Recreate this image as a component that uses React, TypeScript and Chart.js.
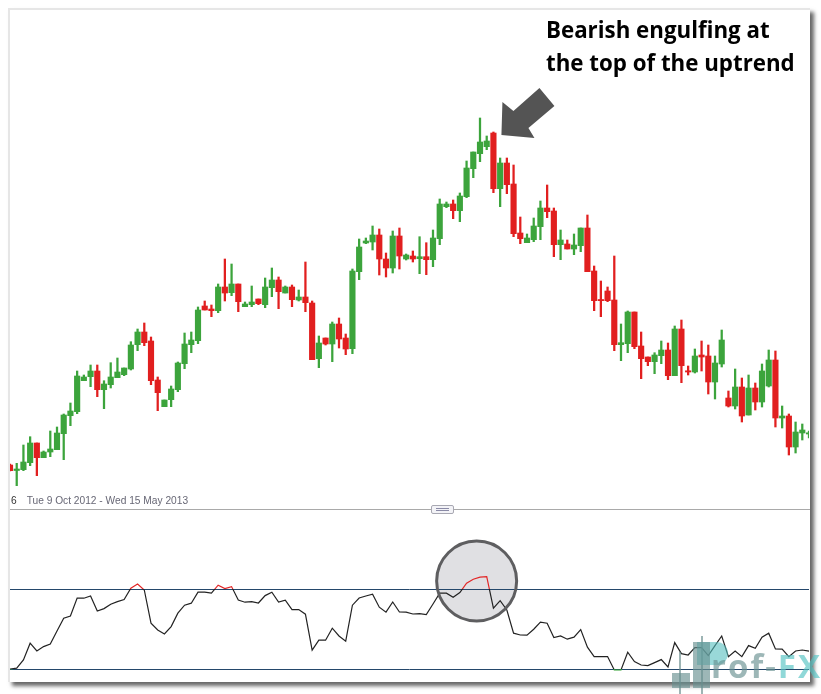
import React, { useEffect, useRef } from 'react';
import { Chart, registerables } from 'chart.js';
Chart.register(...registerables);

// Price values (arbitrary units)
const OPEN = [
  35, 29.5, 30.3, 37.3, 57, 42.3, 48, 50.3, 66.3, 84.3,
  88.3, 119.3, 123.3, 129, 110.3, 115.3, 122.3, 125.3, 131, 155.3,
  168, 159, 120, 93.3, 100.3, 110.3, 136.3, 155.3, 159.3, 194,
  191, 189.3, 213, 207.3, 216, 193.3, 195.3, 201, 195.3, 212.3,
  220, 207, 213, 200, 203, 197, 141.3, 162, 156, 176,
  162, 151.3, 228.3, 257, 258, 265, 241, 232, 264, 241,
  244, 241.3, 243.3, 240.3, 261.3, 293.3, 296, 289.3, 303.3, 331.3,
  346.3, 353.3, 367, 311.3, 337, 316, 267, 257.3, 260.3, 273.3,
  292, 289, 255.3, 256, 251, 254.3, 272, 229, 200.3, 209,
  200, 155.3, 156.3, 188, 154, 143, 138.3, 144.3, 150, 124.3,
  171, 129, 128, 145, 144, 118, 136, 102, 94, 113,
  85, 112, 98, 114, 140, 82, 84, 53, 67, 66,
];
const CLOSE = [
  29.3, 31, 38, 57, 42.3, 48, 51, 67, 85, 89,
  124, 123, 129, 110.3, 116, 123, 128, 132, 155, 168,
  157.3, 119.3, 107.3, 100, 111, 137, 156, 160, 190, 190,
  189.3, 213, 207, 216, 198.3, 196, 198, 196.3, 213, 220,
  208.3, 213, 200.3, 203, 197.3, 140.3, 157, 156, 176, 161,
  151, 229, 253, 259, 265, 241, 232, 264, 244, 245,
  241, 243.3, 240.3, 262, 296, 296, 289.3, 304, 332, 348,
  358, 359, 311.3, 337, 315.3, 266.3, 261.3, 262, 274, 292,
  288.3, 255.3, 260, 251, 255, 272, 228.3, 199.3, 199.3, 199.3,
  155.3, 157.3, 188, 153.3, 141.3, 138.3, 145, 150, 124.3, 171,
  134.3, 128, 144, 143, 118, 137, 160, 94, 113, 84,
  112, 98, 129, 140, 82, 84, 53, 68, 70, 67,
];
const HIGH = [
  36, 36.7, 55, 63.3, 57, 49, 69, 73, 86, 97,
  129, 125, 135, 135, 119.3, 137.3, 142, 132, 158.3, 171,
  177, 163, 123, 100, 114, 138, 167, 168, 193, 199,
  195, 216, 241, 236, 216, 198, 214, 201, 222, 232,
  223, 214, 215, 210, 238, 199, 164, 162, 178, 182,
  166, 231, 261, 262, 274, 271, 247, 269, 272, 246,
  249, 263.3, 257.3, 270, 301, 298, 300, 307, 339, 348,
  382, 364, 368, 342, 342, 335, 283, 266, 282, 299,
  315, 292, 270, 260, 266, 272, 285, 234, 219, 213,
  244, 176, 189, 188, 168, 143, 147.3, 159, 157, 174,
  180, 134, 151, 159, 155, 144, 170, 109, 131, 122,
  125, 117, 136, 150, 149, 94, 86, 78, 76, 69,
];
const LOW = [
  29, 14.3, 29.3, 34.3, 24.3, 42.3, 43.3, 50.3, 40.3, 74.3,
  86.3, 119.3, 113.3, 103.3, 91.3, 112, 122.3, 124.3, 130, 149.3,
  154.3, 115.3, 89.3, 93.3, 93.3, 108.3, 131.3, 147.3, 156.3, 190,
  183.3, 187.3, 199, 204.3, 188.3, 193.3, 193.3, 195.3, 192.3, 203.3,
  191.3, 207, 193.3, 199, 188.3, 140.3, 132.3, 155, 138.3, 152,
  145.3, 146.3, 220.3, 256.3, 250, 225, 223, 227, 231, 240,
  238, 226.3, 225.3, 233.3, 255.3, 292.3, 281.3, 278.3, 302.3, 322.3,
  338.3, 350.3, 307.3, 293.3, 306.3, 263.3, 256.3, 257.3, 258.3, 260.3,
  282.3, 243.3, 240.3, 251, 245.3, 248.3, 228.3, 189.3, 183.3, 198.3,
  149.3, 139.3, 147.3, 151.3, 121.3, 134.3, 126.3, 136.3, 120.3, 124.3,
  117.3, 125, 127, 129, 106, 101, 133, 93, 91, 78,
  85, 90, 93, 113, 73, 72, 45, 47, 60, 62,
];
// Oscillator (RSI-like) values
const RSI = [
  30, 30.4, 34.5, 42.9, 39, 41.2, 42.5, 49, 55.4, 56.5,
  65.5, 65.4, 66.5, 59, 60.2, 62.4, 63.7, 64.7, 70.4, 72.5,
  69.5, 52.9, 49.5, 47.5, 51.2, 57.9, 61.9, 62.9, 68.4, 68.4,
  67.9, 71.9, 70.2, 71.2, 64.5, 63.4, 63.7, 63, 66.7, 68.4,
  63.5, 64.4, 59.7, 59.7, 57.4, 39.4, 44.4, 44.4, 50.4, 46.5,
  43.9, 61.9, 65.5, 66.5, 67.4, 60.9, 58.4, 63.5, 58.5, 58.4,
  57.5, 57.7, 57.2, 62.5, 67.9, 67.9, 65.9, 68.2, 72.9, 74.9,
  75.9, 76.2, 60.4, 64.2, 59.5, 47.9, 47, 46.9, 49.9, 53.4,
  52.9, 45.7, 46.5, 44.9, 45.9, 49.7, 40.9, 36.2, 36.2, 36.2,
  29.5, 29.5, 38.4, 33.7, 32, 31.7, 33.2, 34.7, 31, 43.2,
  37.7, 37, 40.7, 40.7, 36.7, 41.7, 46.5, 36.2, 39, 36.2,
  41.7, 40.4, 45.9, 47.9, 40, 39.9, 36.2, 39, 39.5, 38.9,
];
const LABELS = OPEN.map((_, i) => String(i));
const LEVELS = [30, 70];
const ENGULF_INDEX = 72;
const CIRCLE_FROM = 69;
const CIRCLE_TO = 70;
const CIRCLE_VALUE = 74;

const GREEN = '#3ca43c';
const RED = '#e11f1f';

const arrowPlugin = {
  id: 'arrowNote',
  afterDraw(chart: any) {
    const ctx = chart.ctx;
    const x = chart.scales.x.getPixelForValue(ENGULF_INDEX);
    const y = chart.scales.y.getPixelForValue(HIGH[ENGULF_INDEX]);
    const pts = [[8, 3], [9, -30], [20, -21], [46, -44], [61, -26], [35, -4], [41, 6]];
    ctx.save();
    ctx.beginPath();
    pts.forEach(([dx, dy], k) => (k ? ctx.lineTo(x + dx, y + dy) : ctx.moveTo(x + dx, y + dy)));
    ctx.closePath();
    ctx.fillStyle = '#545454';
    ctx.fill();
    ctx.restore();
  },
};

const circlePlugin = {
  id: 'circleNote',
  beforeDraw(chart: any) {
    const ctx = chart.ctx;
    const xs = chart.scales.x;
    const cx = (xs.getPixelForValue(CIRCLE_FROM) + xs.getPixelForValue(CIRCLE_TO)) / 2;
    const cy = chart.scales.y.getPixelForValue(CIRCLE_VALUE);
    ctx.save();
    ctx.beginPath();
    ctx.arc(cx, cy, 40, 0, Math.PI * 2);
    ctx.fillStyle = '#e0e0e3';
    ctx.fill();
    ctx.restore();
  },
  afterDraw(chart: any) {
    const ctx = chart.ctx;
    const xs = chart.scales.x;
    const cx = (xs.getPixelForValue(CIRCLE_FROM) + xs.getPixelForValue(CIRCLE_TO)) / 2;
    const cy = chart.scales.y.getPixelForValue(CIRCLE_VALUE);
    ctx.save();
    ctx.beginPath();
    ctx.arc(cx, cy, 40, 0, Math.PI * 2);
    ctx.lineWidth = 3;
    ctx.strokeStyle = '#5e5e60';
    ctx.stroke();
    ctx.restore();
  },
};

export default function App() {
  const candleRef = useRef<HTMLCanvasElement>(null);
  const rsiRef = useRef<HTMLCanvasElement>(null);

  useEffect(() => {
    const colors = CLOSE.map((c, i) => (c >= OPEN[i] ? GREEN : RED));
    const c1 = new Chart(candleRef.current as HTMLCanvasElement, {
      type: 'bar',
      data: {
        labels: LABELS,
        datasets: [
          {
            data: LOW.map((l, i) => [l, HIGH[i]]) as any,
            backgroundColor: colors,
            barThickness: 1.6,
            grouped: false,
            order: 2,
          } as any,
          {
            data: OPEN.map((o, i) => [o, CLOSE[i]]) as any,
            backgroundColor: colors,
            barThickness: 5.5,
            minBarLength: 1.2,
            grouped: false,
            order: 1,
          } as any,
        ],
      },
      options: {
        animation: false,
        responsive: false,
        maintainAspectRatio: false,
        layout: { padding: { left: 0, right: 1, top: 0, bottom: 0 } },
        plugins: { legend: { display: false }, tooltip: { enabled: false } },
        scales: {
          x: { type: 'category', offset: false, display: false },
          y: { display: false, min: 0, max: 490 },
        },
      },
      plugins: [arrowPlugin],
    });

    const c2 = new Chart(rsiRef.current as HTMLCanvasElement, {
      type: 'line',
      data: {
        labels: LABELS,
        datasets: [
          {
            data: RSI,
            borderWidth: 1.2,
            pointRadius: 0,
            tension: 0,
            fill: false,
            borderColor: (c: any) => {
              const chart = c.chart;
              const area = chart.chartArea;
              if (!area) return '#222';
              const ys = chart.scales.y;
              const h = area.bottom - area.top;
              const p70 = Math.min(1, Math.max(0, (ys.getPixelForValue(LEVELS[1]) - area.top) / h));
              const p30 = Math.min(1, Math.max(0, (ys.getPixelForValue(LEVELS[0]) - area.top) / h));
              const g = chart.ctx.createLinearGradient(0, area.top, 0, area.bottom);
              g.addColorStop(0, '#e22626');
              g.addColorStop(p70, '#e22626');
              g.addColorStop(p70, '#222222');
              g.addColorStop(p30, '#222222');
              g.addColorStop(p30, '#2ea02e');
              g.addColorStop(1, '#2ea02e');
              return g;
            },
          } as any,
        ],
      },
      options: {
        animation: false,
        responsive: false,
        maintainAspectRatio: false,
        layout: { padding: { left: 0, right: 1, top: 0, bottom: 0 } },
        plugins: { legend: { display: false }, tooltip: { enabled: false } },
        scales: {
          x: { type: 'category', offset: false, display: false },
          y: {
            min: 25,
            max: 105,
            display: true,
            border: { display: false },
            ticks: { display: false },
            grid: { color: '#24476b', lineWidth: 1, drawTicks: false },
            afterBuildTicks: (axis: any) => {
              axis.ticks = LEVELS.map((v) => ({ value: v }));
            },
          },
        },
      },
      plugins: [circlePlugin],
    });

    return () => {
      c1.destroy();
      c2.destroy();
    };
  }, []);

  const abs = (s: React.CSSProperties): React.CSSProperties => ({ position: 'absolute', ...s });

  return (
    <div style={abs({ left: 0, top: 0, width: 821, height: 694, overflow: 'hidden', background: '#fff' })}>
      {/* panel */}
      <div
        style={abs({
          left: 8,
          top: 8,
          width: 800,
          height: 672,
          background: '#fff',
          borderTop: '2px solid #e6e6e6',
          borderLeft: '2px solid #e6e6e6',
          boxShadow: '4px 4px 4px rgba(0,0,0,0.6)',
        })}
      />
      <canvas ref={candleRef} width={800} height={490} style={abs({ left: 10, top: 10, width: 800, height: 490 })} />
      {/* date range text */}
      <div
        style={abs({
          left: 11,
          top: 494,
          fontFamily: '"Liberation Sans", Arial, sans-serif',
          fontSize: 10.2,
          lineHeight: '13px',
          color: '#676775',
          whiteSpace: 'nowrap',
        })}
      >
        <span style={{ color: '#333' }}>6</span>
        <span style={{ marginLeft: 10 }}>Tue 9 Oct 2012 - Wed 15 May 2013</span>
      </div>
      {/* separator */}
      <div style={abs({ left: 10, top: 509, width: 800, height: 1, background: '#a9a9a9' })} />
      <div
        style={abs({
          left: 431,
          top: 505,
          width: 21,
          height: 7,
          border: '1px solid #a8a8b2',
          borderRadius: 2,
          background: '#f3f3f7',
        })}
      >
        <div style={abs({ left: 4, top: 2, width: 13, height: 1, background: '#8a8aa6' })} />
        <div style={abs({ left: 4, top: 4, width: 13, height: 1, background: '#8a8aa6' })} />
      </div>
      <canvas ref={rsiRef} width={800} height={160} style={abs({ left: 10, top: 519, width: 800, height: 160 })} />
      {/* annotation */}
      <div
        style={abs({
          left: 546,
          top: 13,
          fontFamily: '"Open Sans", sans-serif',
          fontWeight: 700,
          fontSize: 22.3,
          lineHeight: '33px',
          color: '#000',
          whiteSpace: 'nowrap',
        })}
      >
        Bearish engulfing at
        <br />
        the top of the uptrend
      </div>
      {/* logo watermark */}
      <div style={abs({ left: 679, top: 652, width: 2, height: 42, background: 'rgba(105,140,140,0.65)' })} />
      <div style={abs({ left: 672, top: 673, width: 18, height: 15, background: 'rgba(105,145,145,0.65)' })} />
      <div style={abs({ left: 701, top: 636, width: 2, height: 58, background: 'rgba(105,140,140,0.65)' })} />
      <div
        style={abs({
          left: 697,
          top: 642,
          width: 31,
          height: 23,
          borderRadius: '0 13px 13px 0',
          background: 'rgba(85,190,190,0.6)',
        })}
      />
      <div style={abs({ left: 693, top: 642, width: 17, height: 46, background: 'rgba(105,145,145,0.65)' })} />
      <div
        style={abs({
          left: 711,
          top: 645,
          fontFamily: '"Open Sans", sans-serif',
          fontWeight: 700,
          fontSize: 33,
          lineHeight: '42px',
          whiteSpace: 'nowrap',
          letterSpacing: 2,
        })}
      >
        <span style={{ color: 'rgba(105,145,145,0.65)' }}>rof-</span>
        <span style={{ color: 'rgba(85,195,195,0.65)' }}>FX</span>
      </div>
    </div>
  );
}
